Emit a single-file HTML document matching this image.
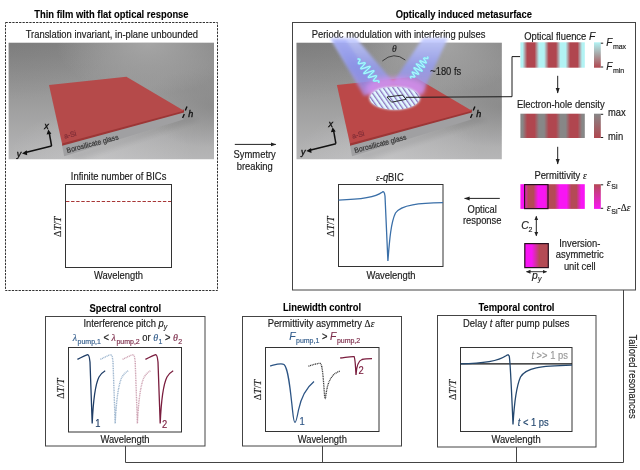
<!DOCTYPE html>
<html><head><meta charset="utf-8">
<style>
html,body{margin:0;padding:0;background:#fff;width:640px;height:470px;overflow:hidden}
svg{display:block;will-change:transform}
text{font-family:"Liberation Sans",sans-serif;font-size:9.4px;color:#1a1a1a;fill:currentColor;stroke:currentColor;stroke-width:0.15px}
tspan{fill:currentColor;stroke:currentColor}
.b{font-weight:bold;color:#000;stroke-width:0.1px}
.i{font-style:italic}
.c{text-anchor:middle}
.s{font-size:7px}
.g{font-family:"Liberation Serif",serif;font-style:italic}
</style></head><body>
<svg width="640" height="470" viewBox="0 0 640 470">
<defs>
  <linearGradient id="bgA" x1="0" y1="0" x2="0" y2="1">
    <stop offset="0" stop-color="#848484"/>
    <stop offset="0.5" stop-color="#9c9c9c"/>
    <stop offset="1" stop-color="#b6b6b7"/>
  </linearGradient>
  <radialGradient id="bgB" cx="0" cy="0" r="0.5">
    <stop offset="0" stop-color="#606060" stop-opacity="0.2"/>
    <stop offset="1" stop-color="#606060" stop-opacity="0"/>
  </radialGradient>
  <radialGradient id="bgT" cx="0.68" cy="0" r="0.45">
    <stop offset="0" stop-color="#b0b0b0" stop-opacity="0.75"/>
    <stop offset="1" stop-color="#b4b4b4" stop-opacity="0"/>
  </radialGradient>
  <radialGradient id="bgC" cx="0.45" cy="1" r="0.45">
    <stop offset="0" stop-color="#d0d0d2" stop-opacity="0.45"/>
    <stop offset="1" stop-color="#d4d4d6" stop-opacity="0"/>
  </radialGradient>
  <radialGradient id="bgD" cx="1" cy="0.55" r="0.35">
    <stop offset="0" stop-color="#707070" stop-opacity="0.4"/>
    <stop offset="1" stop-color="#707070" stop-opacity="0"/>
  </radialGradient>
  <filter id="blur2" x="-20%" y="-50%" width="140%" height="200%"><feGaussianBlur stdDeviation="2"/></filter>
  <filter id="blur1" x="-50%" y="-50%" width="200%" height="200%"><feGaussianBlur stdDeviation="1.2"/></filter>
  <filter id="blur3" x="-50%" y="-50%" width="200%" height="200%"><feGaussianBlur stdDeviation="3"/></filter>
  <filter id="glow" x="-30%" y="-30%" width="160%" height="160%"><feGaussianBlur stdDeviation="0.5"/></filter>
  <linearGradient id="gFlu" gradientUnits="userSpaceOnUse" x1="520.1" y1="0" x2="541.6" y2="0" spreadMethod="repeat">
    <stop offset="0" stop-color="#b2f3f4"/>
    <stop offset="0.12" stop-color="#b2f3f4"/>
    <stop offset="0.33" stop-color="#b0464f"/>
    <stop offset="0.67" stop-color="#b0464f"/>
    <stop offset="0.88" stop-color="#b2f3f4"/>
    <stop offset="1" stop-color="#b2f3f4"/>
  </linearGradient>
  <linearGradient id="gEH" gradientUnits="userSpaceOnUse" x1="520.1" y1="0" x2="541.6" y2="0" spreadMethod="repeat">
    <stop offset="0" stop-color="#878787"/>
    <stop offset="0.12" stop-color="#878787"/>
    <stop offset="0.33" stop-color="#b0464f"/>
    <stop offset="0.67" stop-color="#b0464f"/>
    <stop offset="0.88" stop-color="#878787"/>
    <stop offset="1" stop-color="#878787"/>
  </linearGradient>
  <linearGradient id="gEps" gradientUnits="userSpaceOnUse" x1="520.1" y1="0" x2="541.6" y2="0" spreadMethod="repeat">
    <stop offset="0" stop-color="#f815f4"/>
    <stop offset="0.16" stop-color="#f815f4"/>
    <stop offset="0.38" stop-color="#b44a55"/>
    <stop offset="0.62" stop-color="#b44a55"/>
    <stop offset="0.84" stop-color="#f815f4"/>
    <stop offset="1" stop-color="#f815f4"/>
  </linearGradient>
  <linearGradient id="cbFlu" x1="0" y1="0" x2="0" y2="1">
    <stop offset="0" stop-color="#b2f3f4"/>
    <stop offset="0.5" stop-color="#a8a0a0"/>
    <stop offset="1" stop-color="#b0464f"/>
  </linearGradient>
  <linearGradient id="cbEH" x1="0" y1="0" x2="0" y2="1">
    <stop offset="0" stop-color="#878787"/>
    <stop offset="1" stop-color="#b0464f"/>
  </linearGradient>
  <linearGradient id="cbEps" x1="0" y1="0" x2="0" y2="1">
    <stop offset="0" stop-color="#b44a55"/>
    <stop offset="1" stop-color="#f815f4"/>
  </linearGradient>
  <linearGradient id="gCell" x1="0" y1="0" x2="1" y2="0">
    <stop offset="0" stop-color="#f815f4"/>
    <stop offset="0.3" stop-color="#f815f4"/>
    <stop offset="0.62" stop-color="#b44a55"/>
    <stop offset="1" stop-color="#b44a55"/>
  </linearGradient>
  <linearGradient id="beamG" x1="0" y1="0" x2="0" y2="1">
    <stop offset="0" stop-color="#c4ccff" stop-opacity="0.9"/>
    <stop offset="0.5" stop-color="#949cf2" stop-opacity="0.82"/>
    <stop offset="1" stop-color="#ac90f0" stop-opacity="0.68"/>
  </linearGradient>
  <linearGradient id="beamL" x1="0" y1="0" x2="0" y2="1">
    <stop offset="0" stop-color="#9ea6ff" stop-opacity="0.85"/>
    <stop offset="1" stop-color="#d070f0" stop-opacity="0.5"/>
  </linearGradient>
  <radialGradient id="halo" cx="0.5" cy="0.5" r="0.5">
    <stop offset="0" stop-color="#e080ff" stop-opacity="0.9"/>
    <stop offset="0.7" stop-color="#d070f0" stop-opacity="0.6"/>
    <stop offset="1" stop-color="#d070f0" stop-opacity="0"/>
  </radialGradient>
  <pattern id="stripes" patternUnits="userSpaceOnUse" width="4.0" height="40" patternTransform="rotate(-35)">
    <rect x="0" y="0" width="4.0" height="40" fill="#8c74c0"/>
    <rect x="0.3" y="0" width="2.7" height="40" fill="#e2f9ff"/>
  </pattern>
  <filter id="blur15" x="-50%" y="-50%" width="200%" height="200%"><feGaussianBlur stdDeviation="1.5"/></filter>
  <filter id="blur25" x="-50%" y="-50%" width="200%" height="200%"><feGaussianBlur stdDeviation="2.5"/></filter>
  <clipPath id="ellClip"><ellipse cx="394.7" cy="98.2" rx="24.9" ry="11.3"/></clipPath>
  <marker id="ah" markerWidth="6" markerHeight="6" refX="5" refY="3" orient="auto" markerUnits="userSpaceOnUse">
    <path d="M0,1 L5.5,3 L0,5 z" fill="#222"/>
  </marker>
  <marker id="ahs" markerWidth="5" markerHeight="5" refX="4" refY="2.5" orient="auto-start-reverse" markerUnits="userSpaceOnUse">
    <path d="M0,0.5 L4.5,2.5 L0,4.5 z" fill="#222"/>
  </marker>
</defs>

<!-- ===== Titles ===== -->
<text class="b c" x="111.4" y="17.8" transform="translate(0,-1.246) scale(1,1.07)">Thin film with flat optical response</text>
<text class="b c" x="463.9" y="17.8" transform="translate(0,-1.246) scale(1,1.07)">Optically induced metasurface</text>

<!-- ===== Left dashed box ===== -->
<rect x="5.5" y="22.5" width="212" height="268" fill="none" stroke="#333" stroke-width="1" stroke-dasharray="2.3,1.1"/>
<text class="c" x="111.9" y="37.9" transform="translate(0,-2.653) scale(1,1.07)">Translation invariant, in-plane unbounded</text>

<g id="img1">
<clipPath id="clip0"><rect x="8.4" y="42.5" width="205.6" height="117"/></clipPath><g clip-path="url(#clip0)">
<rect x="8.4" y="42.5" width="205.6" height="117" fill="url(#bgA)"/>
<rect x="8.4" y="42.5" width="205.6" height="117" fill="url(#bgB)"/>
<rect x="8.4" y="42.5" width="205.6" height="117" fill="url(#bgC)"/>
<rect x="8.4" y="42.5" width="205.6" height="117" fill="url(#bgD)"/>
<rect x="8.4" y="42.5" width="205.6" height="117" fill="url(#bgT)"/>
<polygon points="64.0,155.5 183.0,116.0 200.0,120.0 80.0,160.0" fill="#000" opacity="0.06" filter="url(#blur2)"/>
<polygon points="62.0,145.0 184.0,111.5 183.5,119.5 64.2,156.2" fill="#a0a0a2"/>
<polygon points="62.0,141.5 184.0,109.5 184.0,112.6 62.2,145.8" fill="#9c3636"/>
<polygon points="49.0,85.0 126.4,76.8 184.0,110.8 62.0,143.5" fill="#b54a4a"/>
<text transform="translate(67.2,153) rotate(-14.8) scale(1,1.07)" style="font-size:6.9px;color:#333">Borosilicate glass</text>
<text transform="translate(64.8,138.8) rotate(-14.5) scale(1,1.07)" style="font-size:7px;color:#7e2c36">a-Si</text>
<path d="M51.6,146 L49.2,132.5" stroke="#111" stroke-width="1.5" fill="none"/>
<path d="M48.3,129.5 L46.6,134.5 L51.4,133.7 z" fill="#111"/>
<path d="M51.6,146 L25.5,152.5" stroke="#111" stroke-width="1.5" fill="none"/>
<path d="M22,153.4 L26.8,150.2 L27.2,155.2 z" fill="#111"/>
<text x="44.2" y="129" class="i" style="font-size:9px;color:#111;stroke-width:0.35px" transform="translate(0,-9.030) scale(1,1.07)">x</text>
<text x="16.8" y="157.5" class="i" style="font-size:9px;color:#111;stroke-width:0.35px" transform="translate(0,-11.025) scale(1,1.07)">y</text>
<path d="M187,106.5 L185.3,110.5 M184.3,114 L182.6,118" stroke="#111" stroke-width="1.4"/>
<text x="188.3" y="116.8" class="i" style="font-size:9px;color:#111;stroke-width:0.35px" transform="translate(0,-8.176) scale(1,1.07)">h</text>
</g>
</g>

<!-- plot 1 -->
<text class="c" x="118.6" y="180" transform="translate(0,-12.600) scale(1,1.07)">Infinite number of BICs</text>
<rect x="65.5" y="184.5" width="106" height="83" fill="none" stroke="#333" stroke-width="1"/>
<line x1="66" y1="201.5" x2="171" y2="201.5" stroke="#a83636" stroke-width="1.1" stroke-dasharray="3.4,1.7"/>
<text class="c" style="font-family:'Liberation Serif',serif;font-size:10px" transform="translate(61,226.8) rotate(-90) scale(1,1.07)">Δ<tspan class="i">T</tspan>/<tspan class="i">T</tspan></text>
<text class="c" x="118.5" y="279" transform="translate(0,-19.530) scale(1,1.07)">Wavelength</text>

<!-- symmetry breaking -->
<line x1="234.8" y1="144.4" x2="275.8" y2="144.4" stroke="#222" stroke-width="1" marker-end="url(#ah)"/>
<text class="c" x="254.7" y="158.2" transform="translate(0,-11.074) scale(1,1.07)">Symmetry</text>
<text class="c" x="254.7" y="169.8" transform="translate(0,-11.886) scale(1,1.07)">breaking</text>

<!-- ===== Right box ===== -->
<rect x="292.5" y="22.5" width="343" height="267.5" fill="none" stroke="#444" stroke-width="1"/>
<text class="c" x="398.6" y="37.7" transform="translate(0,-2.639) scale(1,1.07)">Periodc modulation with interfering pulses</text>

<g id="img2">
<clipPath id="clip287"><rect x="296.29999999999995" y="42.5" width="205.6" height="117"/></clipPath><g clip-path="url(#clip287)">
<rect x="296.29999999999995" y="42.5" width="205.6" height="117" fill="url(#bgA)"/>
<rect x="296.29999999999995" y="42.5" width="205.6" height="117" fill="url(#bgB)"/>
<rect x="296.29999999999995" y="42.5" width="205.6" height="117" fill="url(#bgC)"/>
<rect x="296.29999999999995" y="42.5" width="205.6" height="117" fill="url(#bgD)"/>
<rect x="296.29999999999995" y="42.5" width="205.6" height="117" fill="url(#bgT)"/>
<polygon points="351.9,155.5 470.9,116.0 487.9,120.0 367.9,160.0" fill="#000" opacity="0.06" filter="url(#blur2)"/>
<polygon points="349.9,145.0 471.9,111.5 471.4,119.5 352.1,156.2" fill="#a0a0a2"/>
<polygon points="349.9,141.5 471.9,109.5 471.9,112.6 350.1,145.8" fill="#9c3636"/>
<polygon points="336.9,85.0 414.3,76.8 471.9,110.8 349.9,143.5" fill="#bb4848"/>
<text transform="translate(355.09999999999997,153) rotate(-14.8) scale(1,1.07)" style="font-size:6.9px;color:#333">Borosilicate glass</text>
<text transform="translate(352.7,138.8) rotate(-14.5) scale(1,1.07)" style="font-size:7px;color:#7e2c36">a-Si</text>
<path d="M335.9,143.7 L333.49999999999994,130.2" stroke="#111" stroke-width="1.5" fill="none"/>
<path d="M332.59999999999997,127.2 L330.9,132.2 L335.69999999999993,131.39999999999998 z" fill="#111"/>
<path d="M335.9,143.7 L309.79999999999995,150.2" stroke="#111" stroke-width="1.5" fill="none"/>
<path d="M306.29999999999995,151.1 L311.09999999999997,147.89999999999998 L311.49999999999994,152.89999999999998 z" fill="#111"/>
<text x="328.49999999999994" y="126.7" class="i" style="font-size:9px;color:#111;stroke-width:0.35px" transform="translate(0,-8.869) scale(1,1.07)">x</text>
<text x="301.09999999999997" y="155.2" class="i" style="font-size:9px;color:#111;stroke-width:0.35px" transform="translate(0,-10.864) scale(1,1.07)">y</text>
<path d="M474.9,106.5 L473.2,110.5 M472.2,114 L470.5,118" stroke="#111" stroke-width="1.4"/>
<text x="476.2" y="116.8" class="i" style="font-size:9px;color:#111;stroke-width:0.35px" transform="translate(0,-8.176) scale(1,1.07)">h</text>
</g>
<g>
  <!-- beams -->
  <polygon points="330,38 356,38 395,84 364,96" fill="url(#beamG)" filter="url(#blur15)"/>
  <polygon points="423,38 448,38 422,94 392,84" fill="url(#beamG)" filter="url(#blur15)"/>
  <polygon points="332,40 346,40 378,88 366,92" fill="#8088f0" opacity="0.35" filter="url(#blur15)"/>
  <ellipse cx="395" cy="89" rx="30" ry="12" fill="#d890f0" opacity="0.75" filter="url(#blur25)"/>
  <ellipse cx="394.7" cy="98.2" rx="25.5" ry="11.8" fill="#d8ecff" opacity="0.9" filter="url(#blur1)"/>
  <g clip-path="url(#ellClip)">
    <rect x="360" y="80" width="70" height="40" fill="url(#stripes)"/>
  </g>
  <path d="M357.5,59.0 L357.9,59.0 L358.2,59.0 L358.6,59.0 L358.9,59.1 L359.2,59.1 L359.5,59.2 L359.7,59.3 L359.8,59.4 L359.9,59.6 L360.0,59.8 L359.9,60.1 L359.8,60.3 L359.7,60.7 L359.5,61.0 L359.3,61.3 L359.1,61.7 L358.9,62.1 L358.7,62.4 L358.5,62.7 L358.4,63.0 L358.4,63.3 L358.4,63.5 L358.6,63.6 L358.8,63.7 L359.2,63.7 L359.6,63.7 L360.1,63.6 L360.6,63.5 L361.3,63.4 L361.9,63.2 L362.5,63.1 L363.2,62.9 L363.7,62.8 L364.2,62.8 L364.6,62.7 L364.9,62.8 L365.1,62.9 L365.1,63.1 L365.0,63.4 L364.8,63.8 L364.5,64.2 L364.0,64.7 L363.6,65.2 L363.0,65.7 L362.5,66.3 L362.0,66.8 L361.5,67.3 L361.1,67.8 L360.9,68.2 L360.8,68.5 L360.8,68.7 L361.0,68.8 L361.3,68.8 L361.8,68.8 L362.4,68.6 L363.2,68.4 L364.1,68.1 L365.0,67.8 L365.9,67.5 L366.8,67.1 L367.7,66.8 L368.5,66.6 L369.1,66.5 L369.6,66.4 L369.9,66.4 L370.1,66.6 L370.0,66.8 L369.8,67.2 L369.4,67.6 L368.9,68.2 L368.3,68.8 L367.6,69.4 L366.8,70.1 L366.1,70.8 L365.4,71.4 L364.8,72.0 L364.3,72.5 L364.0,72.9 L363.8,73.3 L363.9,73.5 L364.1,73.6 L364.5,73.5 L365.1,73.4 L365.9,73.2 L366.7,72.9 L367.7,72.6 L368.7,72.2 L369.7,71.8 L370.7,71.5 L371.5,71.2 L372.3,70.9 L373.0,70.8 L373.5,70.7 L373.8,70.8 L373.9,70.9 L373.8,71.2 L373.6,71.6 L373.2,72.0 L372.7,72.5 L372.1,73.1 L371.4,73.8 L370.7,74.4 L370.1,75.0 L369.5,75.6 L369.0,76.1 L368.6,76.6 L368.4,76.9 L368.3,77.2 L368.4,77.4 L368.6,77.5 L369.0,77.5 L369.5,77.4 L370.2,77.2 L370.9,77.0 L371.7,76.8 L372.5,76.5 L373.3,76.3 L374.0,76.1 L374.7,75.9 L375.3,75.8 L375.8,75.7 L376.1,75.7 L376.4,75.8 L376.4,76.0 L376.4,76.2 L376.3,76.6 L376.1,76.9 L375.8,77.3 L375.4,77.8 L375.0,78.2 L374.6,78.7 L374.3,79.1 L374.0,79.5 L373.8,79.9 L373.6,80.2 L373.5,80.5 L373.5,80.7 L373.7,80.9 L373.9,81.0 L374.2,81.0 L374.5,81.0 L374.9,81.0 L375.4,81.0 L375.9,80.9 L376.4,80.8 L376.8,80.8 L377.3,80.8 L377.7,80.7 L378.1,80.8 L378.3,80.8 L378.6,80.9 L378.7,81.0 L378.8,81.2 L378.9,81.4 L378.9,81.6 L378.8,81.9 L378.8,82.1 L378.7,82.4 L378.6,82.7 L378.5,83.0" fill="none" stroke="#78e4f6" stroke-width="1.9"/>
  <path d="M357.5,59.0 L357.9,59.0 L358.2,59.0 L358.6,59.0 L358.9,59.1 L359.2,59.1 L359.5,59.2 L359.7,59.3 L359.8,59.4 L359.9,59.6 L360.0,59.8 L359.9,60.1 L359.8,60.3 L359.7,60.7 L359.5,61.0 L359.3,61.3 L359.1,61.7 L358.9,62.1 L358.7,62.4 L358.5,62.7 L358.4,63.0 L358.4,63.3 L358.4,63.5 L358.6,63.6 L358.8,63.7 L359.2,63.7 L359.6,63.7 L360.1,63.6 L360.6,63.5 L361.3,63.4 L361.9,63.2 L362.5,63.1 L363.2,62.9 L363.7,62.8 L364.2,62.8 L364.6,62.7 L364.9,62.8 L365.1,62.9 L365.1,63.1 L365.0,63.4 L364.8,63.8 L364.5,64.2 L364.0,64.7 L363.6,65.2 L363.0,65.7 L362.5,66.3 L362.0,66.8 L361.5,67.3 L361.1,67.8 L360.9,68.2 L360.8,68.5 L360.8,68.7 L361.0,68.8 L361.3,68.8 L361.8,68.8 L362.4,68.6 L363.2,68.4 L364.1,68.1 L365.0,67.8 L365.9,67.5 L366.8,67.1 L367.7,66.8 L368.5,66.6 L369.1,66.5 L369.6,66.4 L369.9,66.4 L370.1,66.6 L370.0,66.8 L369.8,67.2 L369.4,67.6 L368.9,68.2 L368.3,68.8 L367.6,69.4 L366.8,70.1 L366.1,70.8 L365.4,71.4 L364.8,72.0 L364.3,72.5 L364.0,72.9 L363.8,73.3 L363.9,73.5 L364.1,73.6 L364.5,73.5 L365.1,73.4 L365.9,73.2 L366.7,72.9 L367.7,72.6 L368.7,72.2 L369.7,71.8 L370.7,71.5 L371.5,71.2 L372.3,70.9 L373.0,70.8 L373.5,70.7 L373.8,70.8 L373.9,70.9 L373.8,71.2 L373.6,71.6 L373.2,72.0 L372.7,72.5 L372.1,73.1 L371.4,73.8 L370.7,74.4 L370.1,75.0 L369.5,75.6 L369.0,76.1 L368.6,76.6 L368.4,76.9 L368.3,77.2 L368.4,77.4 L368.6,77.5 L369.0,77.5 L369.5,77.4 L370.2,77.2 L370.9,77.0 L371.7,76.8 L372.5,76.5 L373.3,76.3 L374.0,76.1 L374.7,75.9 L375.3,75.8 L375.8,75.7 L376.1,75.7 L376.4,75.8 L376.4,76.0 L376.4,76.2 L376.3,76.6 L376.1,76.9 L375.8,77.3 L375.4,77.8 L375.0,78.2 L374.6,78.7 L374.3,79.1 L374.0,79.5 L373.8,79.9 L373.6,80.2 L373.5,80.5 L373.5,80.7 L373.7,80.9 L373.9,81.0 L374.2,81.0 L374.5,81.0 L374.9,81.0 L375.4,81.0 L375.9,80.9 L376.4,80.8 L376.8,80.8 L377.3,80.8 L377.7,80.7 L378.1,80.8 L378.3,80.8 L378.6,80.9 L378.7,81.0 L378.8,81.2 L378.9,81.4 L378.9,81.6 L378.8,81.9 L378.8,82.1 L378.7,82.4 L378.6,82.7 L378.5,83.0" fill="none" stroke="#dcffff" stroke-width="0.7"/>
  <path d="M427.5,56.5 L427.6,56.8 L427.7,57.1 L427.8,57.4 L427.9,57.6 L427.9,57.9 L427.9,58.1 L427.9,58.3 L427.7,58.4 L427.6,58.5 L427.3,58.5 L427.0,58.5 L426.7,58.4 L426.3,58.4 L425.8,58.3 L425.4,58.2 L425.0,58.1 L424.6,58.0 L424.3,58.0 L424.0,58.0 L423.9,58.1 L423.8,58.2 L423.7,58.4 L423.8,58.7 L424.0,59.0 L424.2,59.4 L424.5,59.9 L424.9,60.3 L425.2,60.8 L425.5,61.3 L425.8,61.7 L426.1,62.1 L426.2,62.4 L426.2,62.7 L426.2,62.8 L426.0,62.9 L425.6,62.8 L425.2,62.7 L424.7,62.5 L424.0,62.3 L423.4,62.0 L422.7,61.7 L422.0,61.4 L421.4,61.1 L420.8,60.9 L420.4,60.8 L420.1,60.8 L419.9,60.9 L419.9,61.1 L420.0,61.4 L420.3,61.8 L420.7,62.4 L421.2,63.0 L421.8,63.6 L422.4,64.3 L423.0,64.9 L423.5,65.6 L424.0,66.1 L424.3,66.6 L424.5,66.9 L424.5,67.2 L424.4,67.3 L424.0,67.2 L423.5,67.0 L422.9,66.8 L422.1,66.4 L421.2,66.0 L420.3,65.5 L419.4,65.1 L418.6,64.6 L417.8,64.3 L417.2,64.1 L416.8,63.9 L416.5,63.9 L416.4,64.1 L416.5,64.4 L416.8,64.8 L417.3,65.4 L417.9,66.0 L418.5,66.7 L419.2,67.5 L420.0,68.3 L420.6,69.0 L421.2,69.6 L421.7,70.2 L422.0,70.6 L422.1,70.9 L422.0,71.1 L421.7,71.1 L421.3,70.9 L420.7,70.7 L419.9,70.4 L419.1,69.9 L418.2,69.5 L417.3,69.0 L416.4,68.6 L415.6,68.2 L415.0,68.0 L414.5,67.8 L414.1,67.7 L414.0,67.8 L414.0,68.1 L414.2,68.4 L414.5,68.9 L415.0,69.4 L415.5,70.1 L416.1,70.7 L416.7,71.4 L417.3,72.0 L417.8,72.6 L418.2,73.2 L418.5,73.6 L418.6,73.9 L418.6,74.1 L418.4,74.2 L418.1,74.2 L417.7,74.1 L417.1,73.9 L416.5,73.6 L415.8,73.3 L415.1,73.0 L414.5,72.7 L413.8,72.5 L413.3,72.3 L412.9,72.2 L412.5,72.1 L412.3,72.2 L412.3,72.3 L412.3,72.6 L412.4,72.9 L412.7,73.3 L413.0,73.7 L413.3,74.2 L413.6,74.7 L414.0,75.1 L414.3,75.6 L414.5,76.0 L414.7,76.3 L414.8,76.6 L414.7,76.8 L414.6,76.9 L414.5,77.0 L414.2,77.0 L413.9,77.0 L413.5,76.9 L413.1,76.8 L412.7,76.7 L412.2,76.6 L411.8,76.6 L411.5,76.5 L411.2,76.5 L410.9,76.5 L410.8,76.6 L410.6,76.7 L410.6,76.9 L410.6,77.1 L410.6,77.4 L410.7,77.6 L410.8,77.9 L410.9,78.2 L411.0,78.5" fill="none" stroke="#78e4f6" stroke-width="1.9"/>
  <path d="M427.5,56.5 L427.6,56.8 L427.7,57.1 L427.8,57.4 L427.9,57.6 L427.9,57.9 L427.9,58.1 L427.9,58.3 L427.7,58.4 L427.6,58.5 L427.3,58.5 L427.0,58.5 L426.7,58.4 L426.3,58.4 L425.8,58.3 L425.4,58.2 L425.0,58.1 L424.6,58.0 L424.3,58.0 L424.0,58.0 L423.9,58.1 L423.8,58.2 L423.7,58.4 L423.8,58.7 L424.0,59.0 L424.2,59.4 L424.5,59.9 L424.9,60.3 L425.2,60.8 L425.5,61.3 L425.8,61.7 L426.1,62.1 L426.2,62.4 L426.2,62.7 L426.2,62.8 L426.0,62.9 L425.6,62.8 L425.2,62.7 L424.7,62.5 L424.0,62.3 L423.4,62.0 L422.7,61.7 L422.0,61.4 L421.4,61.1 L420.8,60.9 L420.4,60.8 L420.1,60.8 L419.9,60.9 L419.9,61.1 L420.0,61.4 L420.3,61.8 L420.7,62.4 L421.2,63.0 L421.8,63.6 L422.4,64.3 L423.0,64.9 L423.5,65.6 L424.0,66.1 L424.3,66.6 L424.5,66.9 L424.5,67.2 L424.4,67.3 L424.0,67.2 L423.5,67.0 L422.9,66.8 L422.1,66.4 L421.2,66.0 L420.3,65.5 L419.4,65.1 L418.6,64.6 L417.8,64.3 L417.2,64.1 L416.8,63.9 L416.5,63.9 L416.4,64.1 L416.5,64.4 L416.8,64.8 L417.3,65.4 L417.9,66.0 L418.5,66.7 L419.2,67.5 L420.0,68.3 L420.6,69.0 L421.2,69.6 L421.7,70.2 L422.0,70.6 L422.1,70.9 L422.0,71.1 L421.7,71.1 L421.3,70.9 L420.7,70.7 L419.9,70.4 L419.1,69.9 L418.2,69.5 L417.3,69.0 L416.4,68.6 L415.6,68.2 L415.0,68.0 L414.5,67.8 L414.1,67.7 L414.0,67.8 L414.0,68.1 L414.2,68.4 L414.5,68.9 L415.0,69.4 L415.5,70.1 L416.1,70.7 L416.7,71.4 L417.3,72.0 L417.8,72.6 L418.2,73.2 L418.5,73.6 L418.6,73.9 L418.6,74.1 L418.4,74.2 L418.1,74.2 L417.7,74.1 L417.1,73.9 L416.5,73.6 L415.8,73.3 L415.1,73.0 L414.5,72.7 L413.8,72.5 L413.3,72.3 L412.9,72.2 L412.5,72.1 L412.3,72.2 L412.3,72.3 L412.3,72.6 L412.4,72.9 L412.7,73.3 L413.0,73.7 L413.3,74.2 L413.6,74.7 L414.0,75.1 L414.3,75.6 L414.5,76.0 L414.7,76.3 L414.8,76.6 L414.7,76.8 L414.6,76.9 L414.5,77.0 L414.2,77.0 L413.9,77.0 L413.5,76.9 L413.1,76.8 L412.7,76.7 L412.2,76.6 L411.8,76.6 L411.5,76.5 L411.2,76.5 L410.9,76.5 L410.8,76.6 L410.6,76.7 L410.6,76.9 L410.6,77.1 L410.6,77.4 L410.7,77.6 L410.8,77.9 L410.9,78.2 L411.0,78.5" fill="none" stroke="#dcffff" stroke-width="0.7"/>
  <polygon points="387,97 402.5,95.1 406.2,99.3 391.7,102.2" fill="none" stroke="#1a1a1a" stroke-width="0.9"/>
</g>
  <path d="M382.3,61 Q394,51 405.3,60" fill="none" stroke="#222" stroke-width="0.8"/>
  <text class="g c" x="394.3" y="52" style="font-size:9.5px" transform="translate(0,-3.640) scale(1,1.07)">θ</text>
  <text x="430.2" y="74.9" transform="translate(0,-5.243) scale(1,1.07)">~180 fs</text>
</g>
<polyline points="406,97.3 512,96.7 512,56.6 520.2,56.6" fill="none" stroke="#1a1a1a" stroke-width="1"/>

<!-- ε-qBIC plot -->
<text class="c" x="389.9" y="180.7" transform="translate(0,-12.649) scale(1,1.07)"><tspan class="g">ε</tspan>-<tspan class="i">q</tspan>BIC</text>
<rect x="338.5" y="184.5" width="104.5" height="82" fill="none" stroke="#333" stroke-width="1"/>
<path d="M338.5,200.1 C362,199.5 376,197 382,192.3 C383.5,191 384.5,192 385,196 L387.9,261 C389.5,240 391,222 395.5,213 C401,204.5 420,203 443,202.7" fill="none" stroke="#3a6fa8" stroke-width="1.3"/>
<text class="c" style="font-family:'Liberation Serif',serif;font-size:10px" transform="translate(334.1,226.5) rotate(-90) scale(1,1.07)">Δ<tspan class="i">T</tspan>/<tspan class="i">T</tspan></text>
<text class="c" x="391" y="279.5" transform="translate(0,-19.565) scale(1,1.07)">Wavelength</text>

<!-- optical response -->
<line x1="499.8" y1="198.4" x2="464.6" y2="198.4" stroke="#222" stroke-width="1" marker-end="url(#ah)"/>
<text class="c" x="482.2" y="213.2" transform="translate(0,-14.924) scale(1,1.07)">Optical</text>
<text class="c" x="482.2" y="224.2" transform="translate(0,-15.694) scale(1,1.07)">response</text>

<!-- fluence -->
<text x="524.2" y="39.6" transform="translate(0,-2.772) scale(1,1.07)">Optical fluence <tspan class="i" style="font-size:10.4px">F</tspan></text>
<rect x="520.4" y="42.3" width="64.4" height="25.4" fill="url(#gFlu)"/>
<rect x="594" y="42.3" width="6.8" height="25.4" fill="url(#cbFlu)"/>
<path d="M600.8,43.2 h2.4 M600.8,67 h2.4" stroke="#222" stroke-width="1"/>
<text class="i" x="606.3" y="46.4" style="font-size:10px" transform="translate(0,-3.248) scale(1,1.07)">F<tspan class="s" style="font-style:normal" dx="0.5" dy="2.6">max</tspan></text>
<text class="i" x="606.3" y="70.3" style="font-size:10px" transform="translate(0,-4.921) scale(1,1.07)">F<tspan class="s" style="font-style:normal" dx="0.5" dy="2.6">min</tspan></text>
<line x1="557.7" y1="75.8" x2="557.7" y2="93" stroke="#222" stroke-width="1" marker-end="url(#ah)"/>

<text class="c" x="560.8" y="108.3" transform="translate(0,-7.581) scale(1,1.07)">Electron-hole density</text>
<rect x="520.4" y="113.7" width="64.4" height="24.3" fill="url(#gEH)"/>
<rect x="594" y="113.7" width="6.8" height="24.3" fill="url(#cbEH)"/>
<path d="M600.8,114.3 h2.4 M600.8,137.5 h2.4" stroke="#222" stroke-width="1"/>
<text x="608" y="116.5" transform="translate(0,-8.155) scale(1,1.07)">max</text>
<text x="608" y="140.5" transform="translate(0,-9.835) scale(1,1.07)">min</text>
<line x1="557.7" y1="146.8" x2="557.7" y2="164" stroke="#222" stroke-width="1" marker-end="url(#ah)"/>

<text class="c" x="560.5" y="179.3" transform="translate(0,-12.551) scale(1,1.07)">Permittivity <tspan class="g">ε</tspan></text>
<rect x="520.4" y="184.2" width="64.4" height="24.7" fill="url(#gEps)"/>
<rect x="524.6" y="184.6" width="23.4" height="24" fill="none" stroke="#2a0f1f" stroke-width="1.2"/>
<rect x="594" y="184.2" width="6.8" height="24.7" fill="url(#cbEps)"/>
<path d="M600.8,184.8 h2.4 M600.8,208.3 h2.4" stroke="#222" stroke-width="1"/>
<text x="606.8" y="186.5" transform="translate(0,-13.055) scale(1,1.07)"><tspan class="g" style="font-size:10px">ε</tspan><tspan class="s" dx="0.6" dy="2.8">Si</tspan></text>
<text x="606.8" y="210.8" transform="translate(0,-14.756) scale(1,1.07)"><tspan class="g" style="font-size:10px">ε</tspan><tspan class="s" dx="0.6" dy="2.8">Si</tspan><tspan dy="-2.8">-</tspan><tspan style="font-family:'Liberation Serif',serif">Δ</tspan><tspan class="g">ε</tspan></text>

<line x1="536.3" y1="216.3" x2="536.3" y2="235.8" stroke="#222" stroke-width="1" marker-start="url(#ahs)" marker-end="url(#ahs)"/>
<text class="i" x="521.3" y="229.3" style="font-size:10.4px" transform="translate(0,-16.051) scale(1,1.07)">C<tspan class="s" style="font-style:normal" dx="-0.3" dy="2.4">2</tspan></text>
<rect x="524.8" y="243.6" width="23.5" height="24" fill="url(#gCell)" stroke="#2a0f1f" stroke-width="1.2"/>
<line x1="526.5" y1="271.7" x2="546.5" y2="271.7" stroke="#222" stroke-width="0.9" marker-start="url(#ahs)" marker-end="url(#ahs)"/>
<text class="i" x="532" y="279" style="font-size:10.4px" transform="translate(0,-19.530) scale(1,1.07)">p<tspan class="s" dx="0.2" dy="2">y</tspan></text>
<text class="c" x="579.8" y="247" transform="translate(0,-17.290) scale(1,1.07)">Inversion-</text>
<text class="c" x="579.8" y="258.3" transform="translate(0,-18.081) scale(1,1.07)">asymmetric</text>
<text class="c" x="579.8" y="269.6" transform="translate(0,-18.872) scale(1,1.07)">unit cell</text>

<!-- ===== Bottom boxes ===== -->
<rect x="45.5" y="316.5" width="159.5" height="129.5" fill="none" stroke="#444" stroke-width="1"/>
<text class="b c" x="125.3" y="312" transform="translate(0,-21.840) scale(1,1.07)">Spectral control</text>
<text class="c" x="125.3" y="327" transform="translate(0,-22.890) scale(1,1.07)">Interference pitch <tspan class="i">p</tspan><tspan class="s i" dy="2">y</tspan></text>
<text class="c" x="127.5" y="341.5" transform="translate(0,-23.905) scale(1,1.07)"><tspan class="g" style="color:#335d8c;font-size:10px">λ</tspan><tspan class="s" style="color:#335d8c" dx="0.5" dy="2.6">pump,1</tspan><tspan dy="-2.6"> &lt; </tspan><tspan class="g" style="color:#7c2c4a;font-size:10px">λ</tspan><tspan class="s" style="color:#7c2c4a" dx="0.5" dy="2.6">pump,2</tspan><tspan dy="-2.6"> or </tspan><tspan class="g" style="color:#335d8c;font-size:10px">θ</tspan><tspan class="s" style="color:#335d8c" dx="0.3" dy="2.6">1</tspan><tspan dy="-2.6"> &gt; </tspan><tspan class="g" style="color:#7c2c4a;font-size:10px">θ</tspan><tspan class="s" style="color:#7c2c4a" dx="0.3" dy="2.6">2</tspan></text>
<rect x="68.5" y="347.5" width="113" height="84.5" fill="none" stroke="#333" stroke-width="1"/>
<text class="c" style="font-family:'Liberation Serif',serif;font-size:10px" transform="translate(63.6,388.7) rotate(-90) scale(1,1.07)">Δ<tspan class="i">T</tspan>/<tspan class="i">T</tspan></text>
<path d="M77.4,359.4 C81,357.5 85,355.5 87.6,354.6 C89,354.5 89.5,357 90,362 L92.2,423.5 C93,405 95,385 99,377 C101,374 103,372 105.2,370.8" fill="none" stroke="#1f3d66" stroke-width="1.3"/>
<path d="M100.4,359.4 C104,357.5 108,355.5 110.6,354.6 C112,354.5 112.5,357 113,362 L115.2,423.5 C116,405 118,385 122,377 C124,374 126,372 128.2,370.8" fill="none" stroke="#98b2cc" stroke-width="1.4" stroke-dasharray="1,0.7"/>
<path d="M122.6,359.4 C126.2,357.5 130.2,355.5 132.8,354.6 C134.2,354.5 134.7,357 135.2,362 L137.4,423.5 C138.2,405 140.2,385 144.2,377 C146.2,374 148.2,372 150.4,370.8" fill="none" stroke="#cc9fb0" stroke-width="1.4" stroke-dasharray="1,0.7"/>
<path d="M145.4,359.4 C149,357.5 153,355.5 155.6,354.6 C157,354.5 157.5,357 158,362 L160.2,423.5 C161,405 163,385 167,377 C169,374 171,372 173.2,370.8" fill="none" stroke="#7a1d3e" stroke-width="1.3"/>
<text x="95.2" y="427.5" style="color:#1f3d66" transform="translate(0,-29.925) scale(1,1.07)">1</text>
<text x="162" y="428.5" style="color:#7a1d3e" transform="translate(0,-29.995) scale(1,1.07)">2</text>
<text class="c" x="125" y="443" transform="translate(0,-31.010) scale(1,1.07)">Wavelength</text>

<rect x="242.5" y="316.5" width="159" height="129.5" fill="none" stroke="#444" stroke-width="1"/>
<text class="b c" x="322" y="311.5" transform="translate(0,-21.805) scale(1,1.07)">Linewidth control</text>
<text class="c" x="321" y="326.8" transform="translate(0,-22.876) scale(1,1.07)">Permittivity asymmetry <tspan style="font-family:'Liberation Serif',serif">Δ</tspan><tspan class="g">ε</tspan></text>
<text class="c" x="324.7" y="340.2" transform="translate(0,-23.814) scale(1,1.07)"><tspan class="i" style="color:#335d8c;font-size:10.4px">F</tspan><tspan class="s" style="color:#335d8c" dx="0.5" dy="2.8">pump,1</tspan><tspan dy="-2.8"> &gt; </tspan><tspan class="i" style="color:#7c2c4a;font-size:10.4px">F</tspan><tspan class="s" style="color:#7c2c4a" dx="0.5" dy="2.8">pump,2</tspan></text>
<rect x="265.5" y="347.5" width="113.5" height="84" fill="none" stroke="#333" stroke-width="1"/>
<text class="c" style="font-family:'Liberation Serif',serif;font-size:10px" transform="translate(261,390.2) rotate(-90) scale(1,1.07)">Δ<tspan class="i">T</tspan>/<tspan class="i">T</tspan></text>
<path d="M270.2,366 C276,364.5 281,362.5 284,364.5 C288.5,368 290.5,392 292.5,410 C293.3,418 294,422.5 295,422.5 C296,422.5 297,418 298.5,410 C301,398 306,388 314,381.5" fill="none" stroke="#2d5585" stroke-width="1.3"/>
<path d="M308.4,366.2 C313,365 317.5,363 320.5,363.5 C322.5,364.5 323.5,382 324.6,396 C325,399.5 325.4,399.5 325.8,396 C327.5,382 331,374 340.2,371" fill="none" stroke="#333" stroke-width="1.3" stroke-dasharray="1,0.7"/>
<path d="M340.2,358 C345,357.5 351,356.3 354,356.6 C355,357.5 355.5,365 356,375 C356.5,366 358,361 362,359.5 C365,358.8 368,358.7 372,358.6" fill="none" stroke="#7a1d3e" stroke-width="1.3"/>
<text x="299.5" y="425" style="color:#2d5585" transform="translate(0,-29.750) scale(1,1.07)">1</text>
<text x="358.5" y="374" style="color:#7a1d3e" transform="translate(0,-26.180) scale(1,1.07)">2</text>
<text class="c" x="322.3" y="443" transform="translate(0,-31.010) scale(1,1.07)">Wavelength</text>

<rect x="437.5" y="315.5" width="158.5" height="131.5" fill="none" stroke="#444" stroke-width="1"/>
<text class="b c" x="516.5" y="311.2" transform="translate(0,-21.784) scale(1,1.07)">Temporal control</text>
<text class="c" x="516.3" y="327.1" transform="translate(0,-22.897) scale(1,1.07)">Delay <tspan class="i">t</tspan> after pump pulses</text>
<rect x="460.5" y="347.5" width="111.5" height="84" fill="none" stroke="#333" stroke-width="1"/>
<text class="c" style="font-family:'Liberation Serif',serif;font-size:10px" transform="translate(455.6,389.9) rotate(-90) scale(1,1.07)">Δ<tspan class="i">T</tspan>/<tspan class="i">T</tspan></text>
<line x1="460.5" y1="363.8" x2="572" y2="363.8" stroke="#111" stroke-width="1.2"/>
<text x="531.4" y="359" style="color:#999" transform="translate(0,-25.130) scale(1,1.07)"><tspan class="i" style="color:#999">t</tspan> &gt;&gt; 1 ps</text>
<path d="M460.5,363.8 C488,363.5 500,360 506,355.8 C507.5,354.6 508.4,354.2 509.2,356 C510.3,360 511.6,392 513,424.4 C514.3,402 516.5,386 520.5,377 C526,367.5 540,366 572,365.2" fill="none" stroke="#24486f" stroke-width="1.3"/>
<text x="517.7" y="426" style="color:#24486f" transform="translate(0,-29.820) scale(1,1.07)"><tspan class="i" style="color:#24486f">t</tspan> &lt; 1 ps</text>
<text class="c" x="516" y="442.6" transform="translate(0,-30.982) scale(1,1.07)">Wavelength</text>

<!-- bracket -->
<polyline points="125.5,446 125.5,462.5 623.5,462.5 623.5,290" fill="none" stroke="#444" stroke-width="1"/>
<line x1="322.5" y1="446" x2="322.5" y2="462.5" stroke="#444" stroke-width="1"/>
<line x1="516.5" y1="447" x2="516.5" y2="462.5" stroke="#444" stroke-width="1"/>
<text class="c" transform="translate(628.5,376.6) rotate(90) scale(1,1.07)">Tailored resonances</text>
</svg>
</body></html>
